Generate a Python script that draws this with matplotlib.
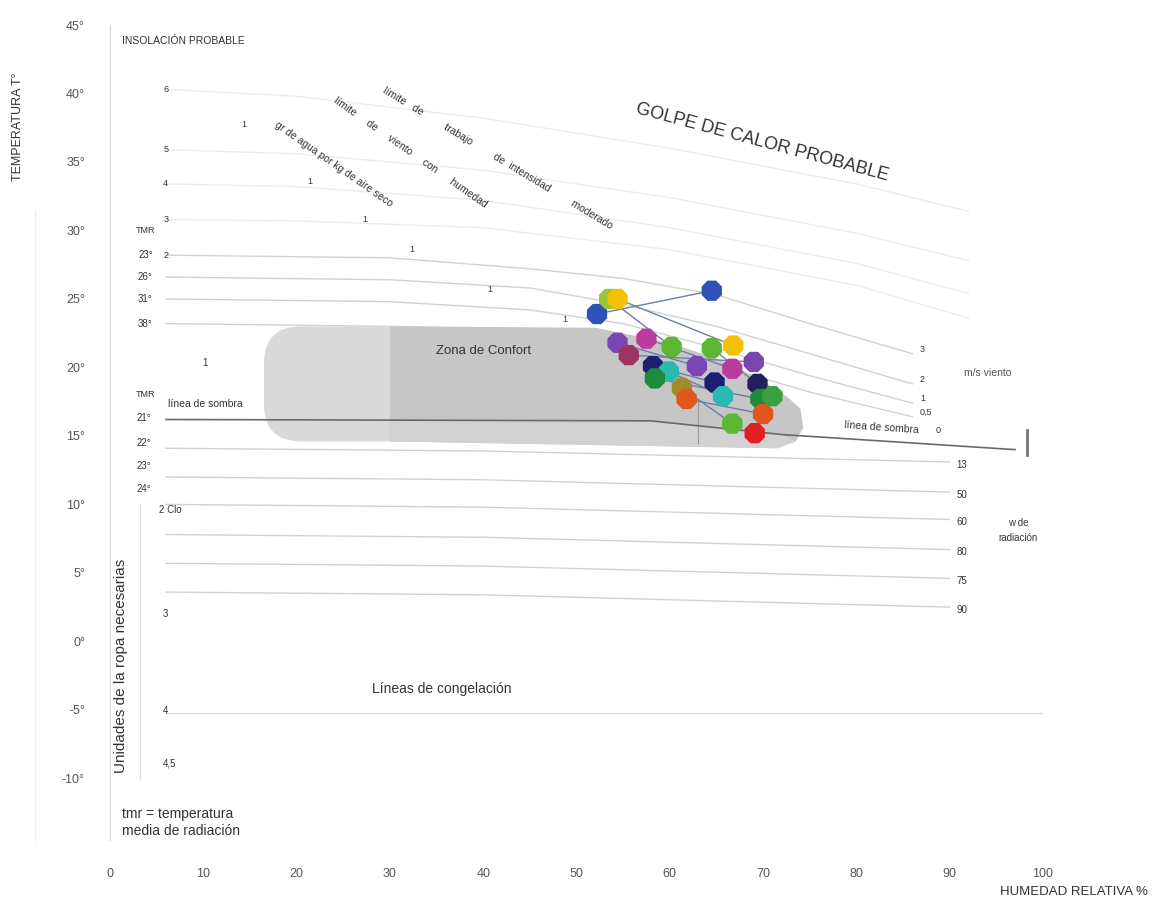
import matplotlib.pyplot as plt
import numpy as np
from matplotlib.patches import FancyBboxPatch, Polygon

plt.rcParams['font.family'] = ['Liberation Sans', 'DejaVu Sans']

# Monthly climate: each month is a segment from the dry/warm end (a) to the humid/cool end (b)
hr_a = [52.2, 53.5, 54.4, 54.4, 57.5, 55.6, 58.2, 64.5, 59.9, 58.4, 61.3, 61.8, 71.0]
t_a = [23.9, 25.0, 25.0, 21.8, 22.1, 20.9, 20.1, 21.4, 19.7, 19.2, 18.5, 17.7, 17.9]
hr_b = [64.5, 60.2, 66.8, 62.9, 66.7, 69.0, 64.8, 69.4, 65.7, 69.7, 66.7, 70.0, 69.1]
t_b = [25.6, 21.5, 21.6, 20.1, 19.9, 20.4, 18.9, 18.8, 17.9, 17.7, 15.9, 16.6, 15.2]
col_a = ['#2f52b8', '#9cc43a', '#f2c200', '#7b45b2', '#b83b9e', '#9c3462', '#1c1f6e',
         '#5cb832', '#2ab8b0', '#1f8a3a', '#a08a2a', '#e0571e', '#3aa040']
col_b = ['#2f52b8', '#5cb832', '#f2c200', '#7b45b2', '#b83b9e', '#7b45b2', '#1c1f6e',
         '#22205a', '#2ab8b0', '#1f8a3a', '#5cb832', '#e0571e', '#e02020']

# Wind lines above the comfort zone (m/s), sampled along relative humidity
wind_rh = [6, 30, 45, 55, 65, 75, 86]
wind_t = {
    '3': [28.2, 28.0, 27.2, 26.5, 25.3, 23.2, 21.0],
    '2': [26.6, 26.4, 25.8, 24.6, 23.0, 21.0, 18.8],
    '1': [25.0, 24.8, 24.2, 23.2, 21.4, 19.4, 17.4],
    '0,5': [23.2, 23.0, 22.8, 22.0, 20.2, 18.2, 16.4],
}

# Humidity (g of water per kg of dry air) lines in the hot zone
water_rh = [6, 20, 40, 60, 80, 92]
water_t = [
    [40.3, 39.8, 38.2, 36.0, 33.4, 31.4],
    [35.9, 35.6, 34.4, 32.4, 29.8, 27.8],
    [33.4, 33.2, 32.2, 30.2, 27.6, 25.4],
    [30.8, 30.7, 30.2, 28.6, 26.0, 23.6],
]
water_labels = ['6', '5', '4', '3', '2']
water_label_t = [40.3, 35.9, 33.4, 30.8, 28.2]

# Marks along the evaporation limit
evap_rh = [14.3, 21.4, 27.3, 32.4, 40.7, 48.8]
evap_t = [37.7, 33.6, 30.8, 28.6, 25.7, 23.5]

# Shade line
shade_rh = [6, 58, 72, 97]
shade_t = [16.2, 16.1, 15.1, 14.0]

# Radiation lines below the shade line
rad_labels = ['13', '50', '60', '80', '75', '90']
rad_left = [14.1, 12.0, 10.0, 7.8, 5.7, 3.6]
rad_right = [13.1, 10.9, 8.9, 6.7, 4.6, 2.5]

# Comfort zone outline
comfort_rh = [30, 52, 60, 66, 70, 72.5, 74, 74.3, 73.5, 71.5, 30]
comfort_t = [23.0, 22.9, 21.8, 20.4, 19.0, 17.9, 17.0, 15.6, 14.6, 14.1, 14.6]

tmr_upper = ['23°', '26°', '31°', '38°']
tmr_upper_t = [28.2, 26.6, 25.0, 23.2]
tmr_lower = ['21°', '22°', '23°', '24°']
tmr_lower_t = [16.3, 14.5, 12.8, 11.1]

x_ticks = [0, 10, 20, 30, 40, 50, 60, 70, 80, 90, 100]
y_ticks = [-10, -5, 0, 5, 10, 15, 20, 25, 30, 35, 40, 45]

fig = plt.figure(figsize=(11.68, 9), dpi=100)
ax = fig.add_axes([110 / 1168, 60 / 900, 933 / 1168, 815 / 900])
ax.set_xlim(0, 100)
ax.set_ylim(-14.5, 45)

faint = '#d2d2d2'
txt = '#333333'

# comfort zone
light = FancyBboxPatch((16.5, 14.6), 18.5, 8.4, boxstyle='round,pad=0,rounding_size=4',
                       mutation_aspect=0.68, fc='#d9d9d9', ec='none', zorder=1)
ax.add_patch(light)
ax.add_patch(Polygon(np.column_stack([comfort_rh, comfort_t]), closed=True,
                     fc='#c6c6c6', ec='none', zorder=1.1))
band = Polygon([(30, 14.6), (30, 16.15), (58, 16.1), (72, 15.1), (73.5, 14.6), (71.5, 14.1)],
               closed=True, fc='#d2d2d2', ec='none', zorder=1.2)
ax.add_patch(band)
ax.plot([63, 63], [14.5, 17.6], color='#9a9a9a', lw=0.8, zorder=1.3)
ax.text(40, 21.2, 'Zona de Confort', fontsize=9.5, color=txt, ha='center', va='center', zorder=2)

# lines in the hot zone
for tt in water_t:
    ax.plot(water_rh, tt, color='#ebebeb', lw=1, zorder=0.5)
for lab, tt in zip(water_labels, water_label_t):
    ax.text(5.7, tt, lab, fontsize=6.5, color=txt, va='center')
for rh, tt in zip(evap_rh, evap_t):
    ax.text(rh, tt, '1', fontsize=6.5, color=txt, ha='center', va='center')
for lab, tt in wind_t.items():
    ax.plot(wind_rh, tt, color=faint, lw=1, zorder=0.6)
    ax.text(wind_rh[-1] + 0.8, tt[-1] + 0.3, lab, fontsize=6.5, color=txt, va='center')
ax.text(88.5, 15.4, '0', fontsize=6.5, color=txt, va='center')
ax.text(91.5, 19.6, 'm/s viento', fontsize=7.5, color='#555555', va='center')

ax.plot(shade_rh, shade_t, color='#6a6a6a', lw=1.2, zorder=1.5)
ax.text(10.2, 17.3, 'línea de sombra', fontsize=7.5, color=txt, ha='center', va='center')
ax.text(82.7, 15.6, 'línea de sombra', fontsize=7.5, color=txt, ha='center', va='center',
        rotation=-4)
ax.plot([98.3, 98.3], [13.6, 15.4], color='#777777', lw=2)

# radiation lines
for lab, t0, t1 in zip(rad_labels, rad_left, rad_right):
    ax.plot([6, 40, 90], [t0, t0 - 0.2, t1], color=faint, lw=1, zorder=0.6)
    ax.text(91.3, t1 - 0.2, lab, fontsize=7, color=txt, va='center', ha='center')
ax.text(97.3, 8.1, 'w de\nradiación', fontsize=7, color=txt, ha='center', va='center',
        linespacing=1.6)

# freezing line
ax.plot([6, 100], [-5.2, -5.2], color='#dddddd', lw=1)
ax.text(35.6, -3.5, 'Líneas de congelación', fontsize=10, color=txt, ha='center', va='center')

# clothing scale
ax.plot([3.2, 3.2], [10, -10], color='#dddddd', lw=1)
ax.text(1.2, -1.8, 'Unidades de la ropa necesarias', fontsize=11, color=txt,
        rotation=90, ha='center', va='center')
ax.text(5.3, 9.6, '2 Clo', fontsize=7, color=txt, va='center')
ax.text(5.7, 2.0, '3', fontsize=7, color=txt, va='center')
ax.text(5.7, -5.1, '4', fontsize=7, color=txt, va='center')
ax.text(5.7, -8.9, '4,5', fontsize=7, color=txt, va='center')
ax.text(1.3, -13.2, 'tmr = temperatura\nmedia de radiación', fontsize=10, color=txt,
        va='center', linespacing=1.25)

# mean radiant temperature labels
ax.text(3.8, 30.0, 'TMR', fontsize=6.5, color=txt, ha='center', va='center')
for lab, tt in zip(tmr_upper, tmr_upper_t):
    ax.text(3.8, tt, lab, fontsize=7, color=txt, ha='center', va='center')
ax.text(3.8, 18.0, 'TMR', fontsize=6.5, color=txt, ha='center', va='center')
for lab, tt in zip(tmr_lower, tmr_lower_t):
    ax.text(3.6, tt, lab, fontsize=7, color=txt, ha='center', va='center')

# hot zone labels
ax.text(1.3, 43.8, 'INSOLACIÓN PROBABLE', fontsize=7.5, color=txt, va='center')
ax.text(69.9, 36.4, 'GOLPE DE CALOR PROBABLE', fontsize=13, color=txt, ha='center',
        va='center', rotation=-15)
ax.text(41.5, 35.3, 'límite   de         trabajo         de  intensidad         moderado',
        fontsize=7.5, color=txt, ha='center', va='center', rotation=-31)
ax.text(32.2, 35.7, 'límite     de     viento     con      humedad', fontsize=7.5, color=txt,
        ha='center', va='center', rotation=-35)
ax.text(24.0, 34.8, 'gr de agua por kg de aire seco', fontsize=7.5, color=txt,
        ha='center', va='center', rotation=-34.9)
ax.text(10.2, 20.3, '1', fontsize=7, color=txt, va='center', ha='center')

# monthly segments
for i in range(len(hr_a)):
    ax.plot([hr_a[i], hr_b[i]], [t_a[i], t_b[i]], color='#6a7fa8', lw=1, zorder=3)
ax.scatter(hr_b, t_b, s=250, marker='8', c=col_b, edgecolors='none', zorder=4)
ax.scatter(hr_a, t_a, s=250, marker='8', c=col_a, edgecolors='none', zorder=5)

# axes
ax.set_xticks(x_ticks)
ax.set_yticks(y_ticks)
ax.set_yticklabels([f'{v}°' for v in y_ticks])
ax.tick_params(length=0, labelsize=9, labelcolor='#555555')
ax.tick_params(axis='x', pad=20)
ax.tick_params(axis='y', pad=18)
for s in ['top', 'right', 'bottom']:
    ax.spines[s].set_visible(False)
ax.spines['left'].set_color('#d8d8d8')

fig.text(18 / 1168, 1 - 127 / 900, 'TEMPERATURA T°', rotation=90, fontsize=9,
         color=txt, ha='center', va='center')
fig.add_artist(plt.Line2D([35 / 1168, 35 / 1168], [1 - 840 / 900, 1 - 210 / 900],
                          color='#eeeeee', lw=1))
fig.text(1000 / 1168, 1 - 892 / 900, 'HUMEDAD RELATIVA %', fontsize=9.5, color=txt,
         va='center')

fig.savefig('out.png', dpi=100)
